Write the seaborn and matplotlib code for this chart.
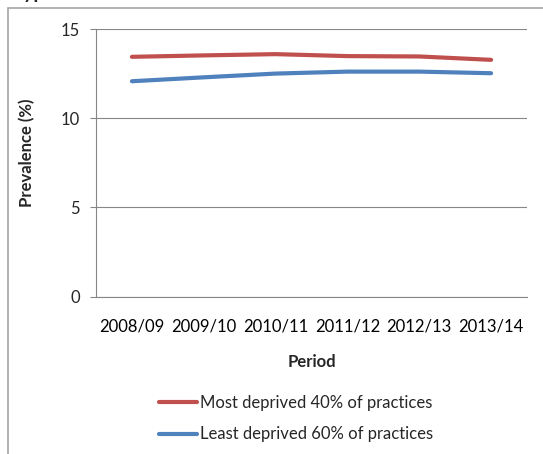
import pandas as pd
import matplotlib.pyplot as plt
import seaborn as sns
from matplotlib.patches import Rectangle

# data
periods = ["2008/09", "2009/10", "2010/11", "2011/12", "2012/13", "2013/14"]
most_deprived = [13.44, 13.52, 13.59, 13.48, 13.46, 13.27]
least_deprived = [12.07, 12.29, 12.50, 12.61, 12.61, 12.52]
series_names = ["Most deprived 40% of practices", "Least deprived 60% of practices"]

df = pd.DataFrame({
    "Period": periods * 2,
    "Prevalence": most_deprived + least_deprived,
    "Group": [series_names[0]] * len(periods) + [series_names[1]] * len(periods),
})

sns.set_style("white")
plt.rcParams['font.family'] = ['Lato', 'DejaVu Sans']

W, H = 543, 454
fig = plt.figure(figsize=(W / 100, H / 100), dpi=100)
ax = fig.add_axes([96 / W, 1 - 296.5 / H, (527 - 96) / W, (296.5 - 29) / H])

grid_col = "#868686"
sns.lineplot(data=df, x="Period", y="Prevalence", hue="Group",
             palette=["#C0504D", "#4F81BD"], linewidth=3, ax=ax, legend=False)

ax.set_xlim(-0.5, 5.5)
ax.set_ylim(0, 15)
ax.set_yticks([0, 5, 10, 15])
ax.grid(axis="y", color=grid_col, linewidth=0.8)
ax.set_axisbelow(True)
for s in ["top", "right"]:
    ax.spines[s].set_visible(False)
for s in ["left", "bottom"]:
    ax.spines[s].set_color(grid_col)
    ax.spines[s].set_linewidth(0.8)

# ticks between categories, like the original
ax.set_xticks([i - 0.5 for i in range(len(periods) + 1)], minor=True)
ax.tick_params(axis="x", which="major", length=0, pad=16, labelsize=12, colors="black")
ax.tick_params(axis="x", which="minor", length=4.5, width=0.8, color=grid_col, direction="out")
ax.tick_params(axis="y", length=4.5, width=0.8, color=grid_col, direction="out",
               labelsize=12, pad=7, left=True)

ax.set_xlabel("Period", fontsize=12, fontweight="bold")
ax.set_ylabel("Prevalence (%)", fontsize=12, fontweight="bold")
ax.xaxis.set_label_coords(0.5, -0.215)
ax.yaxis.set_label_coords(-0.142, 0.536)

handles = [plt.Line2D([], [], color="#C0504D", linewidth=3),
           plt.Line2D([], [], color="#4F81BD", linewidth=3)]
fig.legend(handles, series_names, loc="center", bbox_to_anchor=(296 / W, 1 - 418.5 / H),
           frameon=False, fontsize=12, handlelength=2.3, handletextpad=0.15,
           labelspacing=0.95)

# outer chart border and the clipped title above it
fig.patches.append(Rectangle((8 / W, -0.05), 1.1, 1 - 8 / H + 0.05, transform=fig.transFigure,
                             fill=False, edgecolor="#A6A6A6", linewidth=1.2))
fig.text(8 / W, 1 + 1 / H, "Hypertension", fontsize=14, fontweight="bold", va="baseline")

fig.savefig("out.png", dpi=100)
